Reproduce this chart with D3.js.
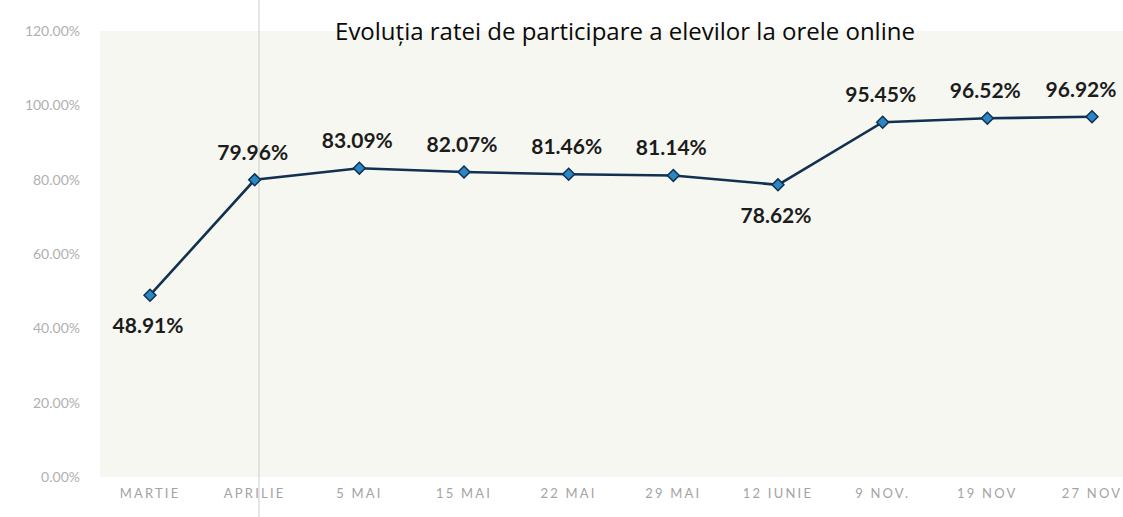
<!DOCTYPE html>
<html>
<head>
<meta charset="utf-8">
<script src="https://cdn.jsdelivr.net/npm/d3@7"></script>
<style>
  body { margin: 0; background: #fff; }
  svg { display: block; }
</style>
</head>
<body>
<div id="chart"></div>
<script>
var labels = ["MARTIE", "APRILIE", "5 MAI", "15 MAI", "22 MAI", "29 MAI", "12 IUNIE", "9 NOV.", "19 NOV", "27 NOV"];
var values = [48.91, 79.96, 83.09, 82.07, 81.46, 81.14, 78.62, 95.45, 96.52, 96.92];
var yTicks = [0, 20, 40, 60, 80, 100, 120];
var title = "Evoluția ratei de participare a elevilor la orele online";

(function() {
    var width = 1123,
        height = 517;

    var svg = d3.select("#chart")
        .append("svg")
        .attr("width", width)
        .attr("height", height)

    var data = labels.map(function(l, i) { return { label: l, value: values[i], i: i } })

    var x = d3.scalePoint().domain(labels).range([150, 1092])
    var y = d3.scaleLinear().domain([0, 120]).range([477, 31])

    // plot background
    svg.append("rect")
        .attr("x", 100)
        .attr("y", y(120))
        .attr("width", width - 100)
        .attr("height", y(0) - y(120))
        .attr("fill", "#f7f7f1")

    // scan crease
    svg.append("line")
        .attr("x1", 259).attr("x2", 259)
        .attr("y1", 0).attr("y2", height)
        .attr("stroke", "#cdcdc8")
        .attr("stroke-width", 1)

    // y axis labels
    svg.append("g")
        .selectAll("text")
        .data(yTicks)
        .enter().append("text")
        .attr("x", 80)
        .attr("y", function(d) { return y(d) + 5 })
        .attr("text-anchor", "end")
        .attr("font-family", "Lato, sans-serif")
        .attr("font-size", 14)
        .attr("fill", "#b0b0b0")
        .text(function(d) { return d.toFixed(2) + "%" })

    // x axis labels
    svg.append("g")
        .selectAll("text")
        .data(labels)
        .enter().append("text")
        .attr("x", function(d) { return x(d) })
        .attr("y", 498)
        .attr("text-anchor", "middle")
        .attr("font-family", "Lato, sans-serif")
        .attr("font-size", 13)
        .attr("letter-spacing", 2.2)
        .attr("fill", "#a4a4a4")
        .text(function(d) { return d })

    // title
    svg.append("text")
        .attr("x", 625)
        .attr("y", 40)
        .attr("text-anchor", "middle")
        .attr("font-family", "'Open Sans', sans-serif")
        .attr("font-size", 24)
        .attr("fill", "#0a0a0a")
        .text(title)

    var line = d3.line()
        .x(function(d) { return x(d.label) })
        .y(function(d) { return y(d.value) })

    svg.append("path")
        .datum(data)
        .attr("d", line)
        .attr("fill", "none")
        .attr("stroke", "#12304f")
        .attr("stroke-width", 2.6)

    var symbol = d3.symbol().type(d3.symbolDiamond2).size(90)

    svg.append("g")
        .selectAll("path")
        .data(data)
        .enter().append("path")
        .attr("d", symbol)
        .attr("transform", function(d) { return "translate(" + x(d.label) + "," + y(d.value) + ")" })
        .attr("fill", "#2a86c4")
        .attr("stroke", "#12304f")
        .attr("stroke-width", 1.5)

    // label below when the point is a local dip
    function below(d) {
        var prev = d.i > 0 ? values[d.i - 1] : Infinity
        var next = d.i < values.length - 1 ? values[d.i + 1] : Infinity
        return d.value < prev && d.value < next
    }

    svg.append("g")
        .selectAll("text")
        .data(data)
        .enter().append("text")
        .attr("x", function(d) { return Math.min(x(d.label) - 2, width - 42) })
        .attr("y", function(d) { return below(d) ? y(d.value) + 38 : y(d.value) - 20 })
        .attr("text-anchor", "middle")
        .attr("font-family", "Lato, sans-serif")
        .attr("font-weight", "bold")
        .attr("font-size", 21)
        .attr("fill", "#1c1c1c")
        .text(function(d) { return d.value.toFixed(2) + "%" })
})();
</script>
</body>
</html>
